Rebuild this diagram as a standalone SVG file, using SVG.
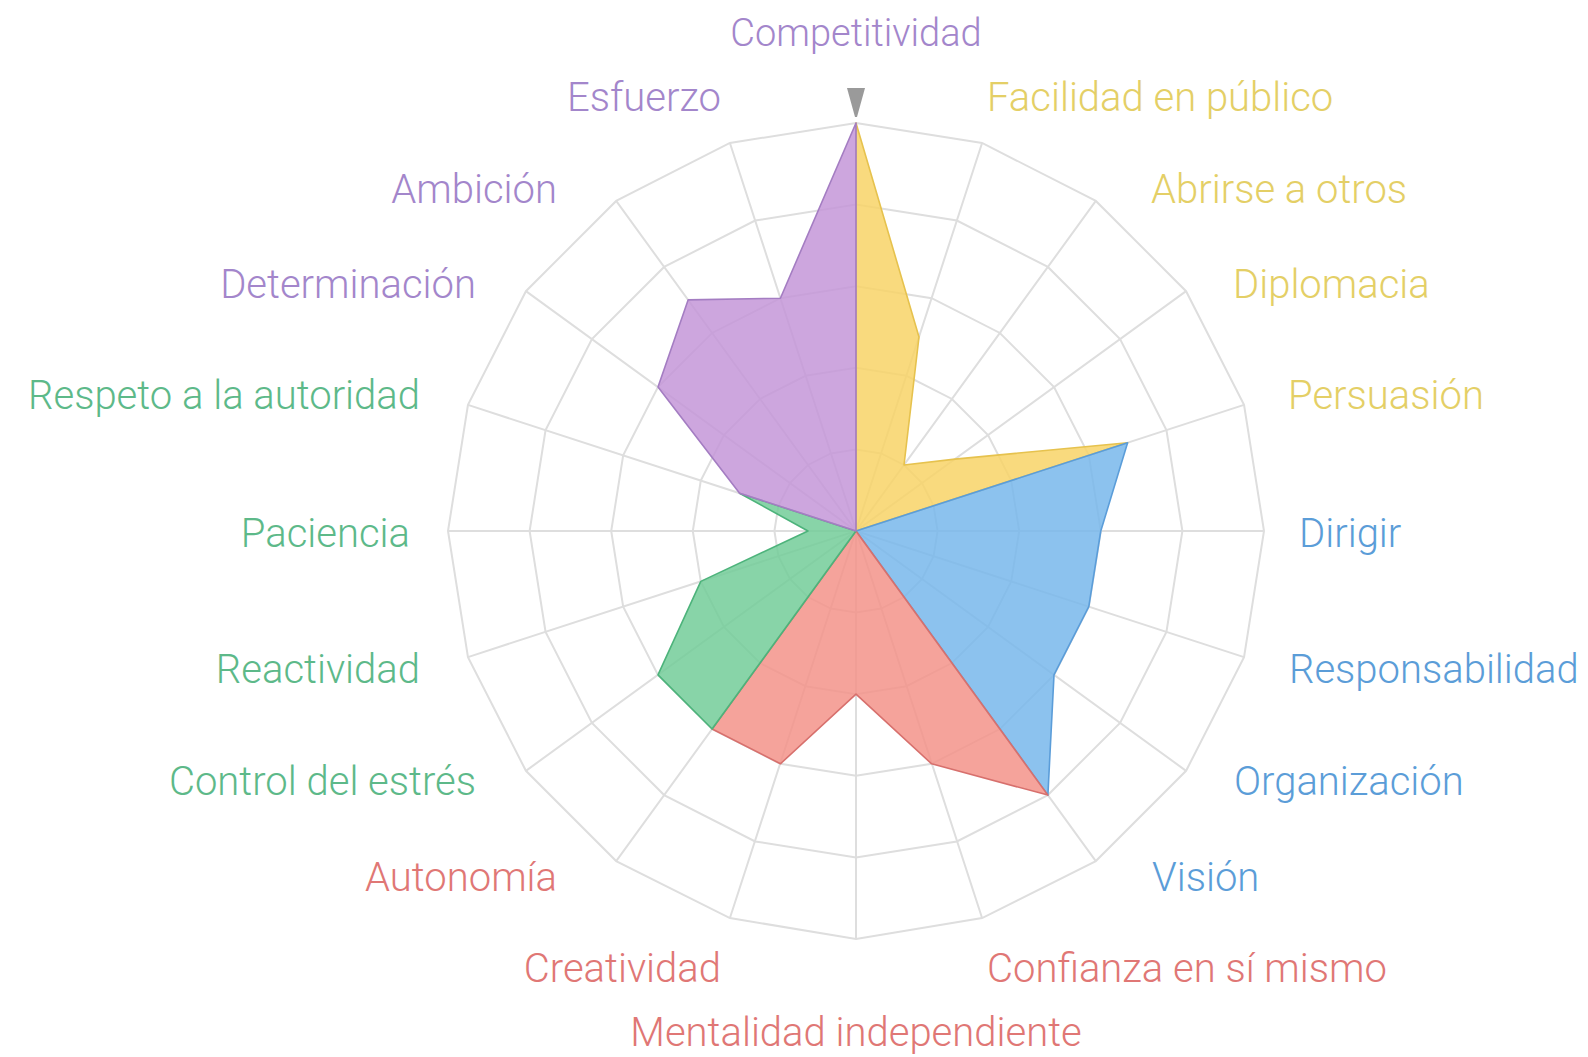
<svg xmlns="http://www.w3.org/2000/svg" width="1588" height="1057" viewBox="0 0 1588 1057">
<style>
.bg{fill:#ffffff}
.ring{fill:none;stroke:#dedede;stroke-width:2}
.spoke{fill:none;stroke:#dedede;stroke-width:2}
.area{fill-opacity:0.85;stroke-width:1.6;stroke-linejoin:round}
.purple{fill:#c496d8;stroke:#a47dc2}
.yellow{fill:#f8d367;stroke:#e6c24e}
.blue{fill:#78b7eb;stroke:#5b9dd9}
.red{fill:#f3938a;stroke:#d7706d}
.green{fill:#73cd99;stroke:#4db37b}
.lbl{font-family:Roboto,"Liberation Sans",sans-serif;font-size:40px;font-weight:300}
.top{font-size:38px}
.tp{fill:#a386cb}
.ty{fill:#e4cf66}
.tb{fill:#5b9dd8}
.tr{fill:#e07775}
.tg{fill:#5db989}
.mark{fill:#9a9a9a}
</style>
<rect class="bg" x="0" y="0" width="1588" height="1057"/>
<g id="grid">
<polygon class="ring" points="856,449.4 881.22,453.39 903.96,464.98 922.02,483.04 933.61,505.78 937.6,531 933.61,556.22 922.02,578.96 903.96,597.02 881.22,608.61 856,612.6 830.78,608.61 808.04,597.02 789.98,578.96 778.39,556.22 774.4,531 778.39,505.78 789.98,483.04 808.04,464.98 830.78,453.39"/>
<polygon class="ring" points="856,367.8 906.43,375.79 951.93,398.97 988.03,435.07 1011.21,480.57 1019.2,531 1011.21,581.43 988.03,626.93 951.93,663.03 906.43,686.21 856,694.2 805.57,686.21 760.07,663.03 723.97,626.93 700.79,581.43 692.8,531 700.79,480.57 723.97,435.07 760.07,398.97 805.57,375.79"/>
<polygon class="ring" points="856,286.2 931.65,298.18 999.89,332.95 1054.05,387.11 1088.82,455.35 1100.8,531 1088.82,606.65 1054.05,674.89 999.89,729.05 931.65,763.82 856,775.8 780.35,763.82 712.11,729.05 657.95,674.89 623.18,606.65 611.2,531 623.18,455.35 657.95,387.11 712.11,332.95 780.35,298.18"/>
<polygon class="ring" points="856,204.6 956.86,220.57 1047.85,266.94 1120.06,339.15 1166.43,430.14 1182.4,531 1166.43,631.86 1120.06,722.85 1047.85,795.06 956.86,841.43 856,857.4 755.14,841.43 664.15,795.06 591.94,722.85 545.57,631.86 529.6,531 545.57,430.14 591.94,339.15 664.15,266.94 755.14,220.57"/>
<polygon class="ring" points="856,123 982.08,142.97 1095.82,200.92 1186.08,291.18 1244.03,404.92 1264,531 1244.03,657.08 1186.08,770.82 1095.82,861.08 982.08,918.03 856,939 729.92,918.03 616.18,861.08 525.92,770.82 467.97,657.08 448,531 467.97,404.92 525.92,291.18 616.18,200.92 729.92,142.97"/>
<path class="spoke" d="M856,123 L856,939 M982.08,142.97 L729.92,918.03 M1095.82,200.92 L616.18,861.08 M1186.08,291.18 L525.92,770.82 M1244.03,404.92 L467.97,657.08 M1264,531 L448,531 M1244.03,657.08 L467.97,404.92 M1186.08,770.82 L525.92,291.18 M1095.82,861.08 L616.18,200.92 M982.08,918.03 L729.92,142.97"/>
</g>
<g id="areas">
<polygon id="area-yellow" class="area yellow" points="856,531 856,123 919,337 904,465 955,459.1 1127.6,442.7"/>
<polygon id="area-blue" class="area blue" points="856,531 1127.6,442.7 1100.8,531 1088.8,606.6 1054,674.9 1047.9,795.1"/>
<polygon id="area-red" class="area red" points="856,531 1047.9,795.1 931.6,763.8 856,694.2 780.4,763.8 712.1,729"/>
<polygon id="area-green" class="area green" points="856,531 712.1,729 658,674.9 700.8,581.4 808,531 739.6,493.2"/>
<polygon id="area-purple" class="area purple" points="856,531 739.6,493.2 658,387.1 688.1,299.9 780.4,298.2 856,123"/>
</g>
<g id="marker">
<polygon class="mark" points="847,88 865,88 857,117 855,117"/>
</g>
<g id="labels">
<text id="l-competitividad" class="lbl top tp" x="856" y="46" text-anchor="middle">Competitividad</text>
<text id="l-esfuerzo" class="lbl tp" x="721" y="111" text-anchor="end">Esfuerzo</text>
<text id="l-facilidad" class="lbl ty" x="987" y="111">Facilidad en público</text>
<text id="l-ambicion" class="lbl tp" x="557" y="203" text-anchor="end">Ambición</text>
<text id="l-abrirse" class="lbl ty" x="1151" y="203">Abrirse a otros</text>
<text id="l-determinacion" class="lbl tp" x="476" y="298" text-anchor="end">Determinación</text>
<text id="l-diplomacia" class="lbl ty" x="1233" y="298">Diplomacia</text>
<text id="l-respeto" class="lbl tg" x="420" y="409" text-anchor="end">Respeto a la autoridad</text>
<text id="l-persuasion" class="lbl ty" x="1288" y="409">Persuasión</text>
<text id="l-paciencia" class="lbl tg" x="410" y="547" text-anchor="end">Paciencia</text>
<text id="l-dirigir" class="lbl tb" x="1299" y="547">Dirigir</text>
<text id="l-reactividad" class="lbl tg" x="420" y="683" text-anchor="end">Reactividad</text>
<text id="l-responsabilidad" class="lbl tb" x="1289" y="683">Responsabilidad</text>
<text id="l-control" class="lbl tg" x="476" y="795" text-anchor="end">Control del estrés</text>
<text id="l-organizacion" class="lbl tb" x="1234" y="795">Organización</text>
<text id="l-autonomia" class="lbl tr" x="557" y="891" text-anchor="end">Autonomía</text>
<text id="l-vision" class="lbl tb" x="1152" y="891">Visión</text>
<text id="l-creatividad" class="lbl tr" x="721" y="982" text-anchor="end">Creatividad</text>
<text id="l-confianza" class="lbl tr" x="987" y="982">Confianza en sí mismo</text>
<text id="l-mentalidad" class="lbl tr" x="856" y="1046" text-anchor="middle">Mentalidad independiente</text>
</g>
</svg>
